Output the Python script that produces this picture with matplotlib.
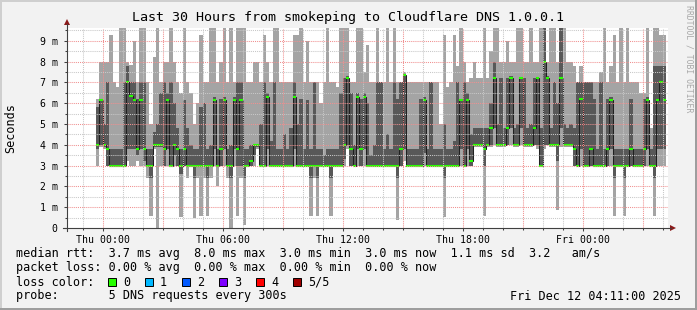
import matplotlib

matplotlib.use("Agg")
import matplotlib.pyplot as plt
from matplotlib.lines import Line2D
from matplotlib.patches import Polygon, Rectangle

W, H = 697, 310
BG, CANVAS = "#f2f2f2", "#ffffff"
SMOKE_OUT, SMOKE_IN, MEDIAN_C = "#a4a4a4", "#585858", "#202020"
MINOR_C, MAJOR_C, AXIS_C, ARROW_C = "#c8c8c8", "#f09090", "#404040", "#8b1a1a"

# hours relative to Thu 00:00; 10-minute bins starting Wed 23:40
T0, STEP = -1 / 3, 1 / 6

# sorted pings per bin (ms): lowest, 2nd, median, 4th, highest
LO = [3.0, 3.9, 3.8, 3.0, 3.0, 2.95, 3.0, 3.0, 3.0, 3.2,
      3.0, 3.0, 3.2, 3.0, 3.0, 2.4, 0.6, 3.8, 0.0, 3.0,
      3.0, 3.0, 3.0, 3.0, 3.0, 0.55, 3.0, 2.4, 3.0, 0.5,
      2.4, 0.6, 2.4, 0.6, 2.4, 3.0, 2.0, 3.0, 3.0, 2.4,
      0.0, 3.0, 0.6, 2.4, 0.15, 3.0, 3.0, 3.0, 3.8, 3.0,
      3.0, 3.0, 3.0, 3.0, 3.0, 3.0, 3.0, 3.0, 3.0, 3.0,
      3.0, 3.0, 3.0, 3.0, 0.6, 2.4, 0.6, 3.0, 3.0, 3.0,
      0.6, 3.0, 3.0, 3.0, 3.0, 3.8, 3.0, 3.0, 3.0, 3.0,
      3.0, 3.0, 3.0, 3.0, 3.0, 3.0, 3.0, 3.0, 3.0, 3.0,
      0.4, 3.0, 3.2, 3.0, 3.0, 3.0, 3.0, 3.0, 3.0, 3.0,
      3.0, 3.0, 3.0, 3.0, 0.55, 3.0, 3.0, 3.0, 3.0, 3.0,
      3.0, 3.0, 3.0, 3.9, 3.9, 3.9, 0.6, 3.9, 3.9, 4.0,
      3.9, 3.9, 3.9, 4.0, 4.0, 3.9, 3.9, 4.0, 3.9, 3.9,
      3.9, 4.0, 3.8, 3.0, 3.8, 4.0, 3.9, 3.9, 0.85, 3.9,
      3.9, 3.9, 3.9, 3.0, 3.0, 3.0, 3.0, 3.0, 3.0, 3.0,
      3.0, 3.0, 3.0, 3.0, 3.0, 0.6, 3.0, 3.0, 0.6, 3.0,
      3.0, 3.0, 3.0, 3.0, 3.0, 3.0, 3.0, 0.6, 3.0, 3.0, 3.0]
P2 = [3.8, 4.0, 3.9, 3.0, 3.0, 3.0, 3.0, 3.0, 3.0, 3.8,
      3.8, 3.8, 3.5, 3.8, 3.2, 3.0, 2.4, 3.9, 3.9, 3.9,
      3.0, 3.8, 3.0, 3.5, 3.0, 2.6, 3.0, 3.0, 3.0, 2.4,
      3.0, 3.0, 3.0, 2.4, 3.0, 3.8, 3.0, 3.0, 3.8, 3.0,
      2.4, 3.8, 3.0, 3.0, 2.4, 3.0, 3.0, 3.5, 3.9, 3.0,
      3.0, 3.8, 3.0, 3.0, 3.0, 3.0, 3.0, 3.0, 3.0, 3.8,
      3.0, 3.0, 3.0, 3.0, 2.4, 3.0, 2.4, 3.0, 3.0, 3.0,
      2.4, 3.0, 3.0, 3.0, 3.3, 4.0, 3.0, 3.0, 3.8, 3.0,
      3.8, 3.0, 3.0, 3.0, 3.0, 3.0, 3.0, 3.0, 3.0, 3.0,
      2.4, 3.0, 3.8, 3.0, 3.0, 3.0, 3.0, 3.0, 3.6, 3.0,
      3.0, 3.0, 3.0, 3.0, 2.4, 3.0, 3.0, 3.0, 3.0, 3.8,
      3.0, 3.8, 3.0, 3.95, 3.95, 3.95, 3.0, 3.95, 4.0, 4.8,
      4.0, 4.0, 4.0, 4.0, 4.8, 4.0, 4.0, 4.8, 4.0, 4.0,
      4.0, 4.0, 4.0, 3.0, 4.0, 4.0, 4.0, 4.0, 3.2, 4.8,
      4.0, 4.0, 4.0, 3.0, 3.0, 3.8, 3.0, 3.0, 3.0, 3.0,
      3.0, 3.0, 3.0, 3.0, 3.8, 2.4, 3.0, 3.0, 2.4, 3.0,
      3.0, 3.0, 3.0, 3.0, 3.0, 3.8, 3.0, 2.4, 3.8, 3.8, 3.8]
MED = [4.0, 6.15, 4.0, 3.8, 3.0, 3.0, 3.0, 3.0, 3.0, 7.0,
       6.35, 6.15, 3.8, 6.15, 3.8, 3.0, 3.0, 4.0, 4.0, 4.0,
       3.8, 6.15, 3.0, 4.0, 3.8, 3.0, 3.8, 3.0, 3.0, 3.0,
       3.0, 3.0, 3.0, 3.0, 3.0, 6.15, 3.0, 3.8, 6.15, 3.0,
       3.0, 6.15, 3.8, 6.15, 3.0, 3.0, 3.2, 4.0, 4.0, 3.0,
       3.0, 6.3, 3.0, 3.0, 3.0, 3.0, 3.0, 3.0, 3.0, 6.3,
       3.0, 3.0, 3.0, 3.0, 3.0, 3.0, 3.0, 3.0, 3.0, 3.0,
       3.0, 3.0, 3.0, 3.0, 4.0, 7.2, 3.8, 3.0, 6.3, 3.8,
       6.3, 3.0, 3.0, 3.0, 3.0, 3.0, 3.0, 3.0, 3.0, 3.0,
       3.0, 3.8, 7.35, 3.0, 3.0, 3.0, 3.0, 3.0, 6.15, 3.0,
       3.0, 3.0, 3.0, 3.0, 3.0, 3.0, 3.0, 3.0, 3.0, 6.15,
       3.0, 6.15, 3.2, 4.0, 4.0, 4.0, 3.8, 4.0, 4.8, 7.2,
       4.0, 4.0, 4.0, 4.8, 7.2, 4.0, 4.0, 7.2, 4.0, 4.0,
       4.0, 4.8, 7.2, 3.0, 8.0, 7.2, 4.0, 4.0, 4.0, 7.2,
       4.0, 4.0, 4.0, 3.8, 3.0, 6.2, 3.0, 3.0, 3.8, 3.0,
       3.0, 3.0, 3.0, 3.8, 6.15, 3.0, 3.0, 3.0, 3.0, 3.0,
       3.8, 3.0, 3.0, 3.0, 3.8, 6.15, 3.0, 3.0, 6.15, 7.0, 6.15]
P4 = [5.8, 6.2, 5.0, 7.0, 3.8, 3.8, 3.8, 3.8, 7.0, 7.8,
      7.0, 7.0, 6.2, 7.0, 7.0, 3.8, 3.8, 4.6, 5.0, 6.5,
      7.0, 6.5, 7.0, 6.0, 4.8, 3.8, 6.15, 4.8, 4.0, 3.8,
      3.8, 5.8, 6.0, 3.8, 4.0, 6.3, 3.8, 6.2, 6.3, 3.8,
      4.0, 6.3, 7.0, 7.0, 3.8, 3.8, 4.0, 4.0, 4.0, 5.0,
      7.0, 6.5, 4.2, 7.0, 3.8, 3.8, 4.5, 3.8, 4.8, 7.0,
      5.0, 6.2, 3.8, 6.15, 3.8, 7.0, 3.8, 3.8, 3.5, 3.8,
      3.8, 3.8, 3.8, 6.5, 7.2, 7.3, 6.5, 4.0, 6.5, 6.2,
      6.5, 6.0, 3.5, 4.0, 7.0, 7.0, 3.8, 4.5, 3.8, 7.0,
      6.2, 7.0, 7.4, 3.8, 3.8, 3.8, 3.8, 6.2, 6.3, 3.8,
      7.0, 3.8, 3.8, 3.8, 5.0, 3.8, 3.8, 4.2, 7.0, 6.2,
      7.0, 6.5, 4.5, 4.8, 4.8, 4.8, 4.8, 4.8, 6.0, 8.0,
      5.0, 7.2, 4.8, 7.2, 7.3, 4.8, 5.0, 7.2, 7.2, 4.8,
      5.0, 7.2, 7.2, 4.8, 9.6, 7.3, 4.8, 7.0, 6.0, 9.6,
      5.0, 4.8, 5.0, 4.8, 7.0, 7.0, 7.0, 7.0, 7.0, 6.2,
      3.8, 7.0, 3.8, 6.2, 6.3, 3.8, 3.8, 3.8, 3.8, 3.8,
      6.2, 3.8, 3.8, 3.8, 6.2, 6.3, 3.8, 7.8, 7.8, 7.8, 7.8]
HI = [6.2, 8.0, 8.0, 8.0, 9.3, 7.0, 6.8, 9.6, 9.6, 8.0,
      7.85, 9.0, 7.0, 9.6, 9.6, 7.0, 5.0, 8.2, 9.6, 7.0,
      8.0, 8.0, 9.6, 8.0, 7.0, 6.5, 9.6, 7.0, 6.5, 5.0,
      6.0, 9.3, 7.0, 7.0, 9.6, 9.6, 7.0, 8.0, 9.6, 7.0,
      9.6, 7.0, 9.6, 9.6, 9.6, 7.0, 7.0, 8.0, 8.0, 7.0,
      9.3, 8.0, 7.0, 9.6, 9.6, 7.0, 7.0, 7.0, 7.0, 9.3,
      9.3, 9.6, 7.0, 9.0, 7.0, 7.0, 7.0, 6.0, 7.0, 9.6,
      7.0, 7.0, 6.8, 9.6, 9.6, 9.6, 7.0, 7.0, 9.6, 9.6,
      7.5, 8.8, 7.0, 7.0, 9.6, 7.0, 7.0, 9.6, 7.0, 9.6,
      7.0, 7.0, 7.5, 7.0, 7.0, 7.0, 7.0, 7.0, 7.0, 7.0,
      7.0, 7.0, 7.0, 5.0, 9.3, 6.8, 7.0, 9.3, 7.8, 9.6,
      8.0, 7.0, 7.2, 8.0, 7.2, 7.2, 9.6, 7.2, 8.5, 9.6,
      9.6, 8.0, 8.0, 9.0, 8.0, 8.0, 9.6, 9.6, 8.0, 8.0,
      9.6, 8.0, 8.0, 9.6, 9.6, 8.0, 9.6, 9.6, 8.0, 9.6,
      9.6, 8.0, 8.0, 7.8, 7.0, 7.8, 7.0, 7.0, 7.0, 7.0,
      7.0, 7.5, 9.6, 7.0, 7.8, 9.3, 7.0, 9.6, 7.0, 9.6,
      7.0, 7.0, 7.0, 6.5, 6.5, 9.6, 4.8, 9.6, 9.6, 9.3, 9.3]
assert len({len(LO), len(P2), len(MED), len(P4), len(HI)}) == 1

X_TICKS = [0, 6, 12, 18, 24]
X_LABELS = ["Thu 00:00", "Thu 06:00", "Thu 12:00", "Thu 18:00", "Fri 00:00"]
Y_TICKS = [0, 1, 2, 3, 4, 5, 6, 7, 8, 9]
Y_LABELS = ["0", "1 m", "2 m", "3 m", "4 m", "5 m", "6 m", "7 m", "8 m", "9 m"]

LOSS_LABELS = ["0", "1", "2", "3", "4", "5/5"]
LOSS_COLORS = ["#26ff00", "#00b8ff", "#0059ff", "#7e00ff", "#ff0000", "#a00000"]

plt.rcParams["font.family"] = "monospace"
plt.rcParams["font.monospace"] = ["DejaVu Sans Mono"]


def fx(x):
    return x / W


def fy(y):
    return 1 - y / H


fig = plt.figure(figsize=(W / 100, H / 100), dpi=100, facecolor=BG)
ax = fig.add_axes([fx(67), fy(228), 601 / W, 200 / H])
ax.set_facecolor(CANVAS)
ax.set_xlim(-1.775, 28.275)
ax.set_ylim(0, 200 / 20.8)
for s in ax.spines.values():
    s.set_visible(False)

edges = [T0 + k * STEP for k in range(len(MED) + 1)]
ax.stairs(HI, edges, baseline=LO, fill=True, color=SMOKE_OUT, lw=0, zorder=1)
ax.stairs(P4, edges, baseline=P2, fill=True, color=SMOKE_IN, lw=0, zorder=2)
ax.stairs(MED, edges, baseline=None, color=MEDIAN_C, lw=0.75, zorder=3)
ax.hlines(MED, edges[:-1], edges[1:], color=LOSS_COLORS[0], lw=1.5, zorder=4)

# rrdtool draws its grid on top of the data
dots = (0, (1, 1))
for h in range(-1, 29):
    ax.axvline(h, color=MAJOR_C if h % 3 == 0 else MINOR_C, lw=0.75,
               ls=dots, zorder=5)
for k in range(1, 20):
    ax.axhline(k / 2, color=MAJOR_C if k % 2 == 0 else MINOR_C, lw=0.75,
               ls=dots, zorder=5)

ax.set_xticks(X_TICKS, X_LABELS)
ax.set_xticks(range(-1, 29), minor=True)
ax.set_yticks(Y_TICKS, Y_LABELS)
ax.set_yticks([k / 2 for k in range(1, 20, 2)], minor=True)
ax.tick_params(which="both", direction="out", color=AXIS_C, width=0.75,
               labelsize=7.1, labelcolor="black")
ax.tick_params(which="major", length=2.2)
ax.tick_params(which="minor", length=1.5)
ax.tick_params(axis="x", pad=3)
ax.tick_params(axis="y", pad=4.5)

# axes with arrows, drawn past the canvas like rrdtool
fig.add_artist(Line2D([fx(63), fx(671)], [fy(228), fy(228)], color=AXIS_C, lw=0.8))
fig.add_artist(Line2D([fx(67), fx(67)], [fy(231), fy(24)], color=AXIS_C, lw=0.8))
fig.add_artist(Polygon([(fx(670), fy(225)), (fx(676), fy(228)), (fx(670), fy(231))],
                       closed=True, color=ARROW_C, lw=0))
fig.add_artist(Polygon([(fx(64), fy(25)), (fx(67), fy(19)), (fx(70), fy(25))],
                       closed=True, color=ARROW_C, lw=0))

# frame shading
fig.add_artist(Rectangle((0, fy(2)), 1, 2 / H, transform=fig.transFigure, color="#cfcfcf", lw=0))
fig.add_artist(Rectangle((0, 0), 2 / W, 1, transform=fig.transFigure, color="#cfcfcf", lw=0))
fig.add_artist(Rectangle((0, 0), 1, 2 / H, transform=fig.transFigure, color="#9e9e9e", lw=0))
fig.add_artist(Rectangle((fx(695), 0), 2 / W, 1, transform=fig.transFigure, color="#9e9e9e", lw=0))

fig.text(fx(348), fy(18), "Last 30 Hours from smokeping to Cloudflare DNS 1.0.0.1",
         ha="center", va="center", fontsize=9.6)
fig.text(fx(11), fy(128), "Seconds", rotation=90, ha="center", va="center", fontsize=8.5)
fig.text(fx(689), fy(5), "RRDTOOL / TOBI OETIKER", rotation=270, ha="center",
         va="top", fontsize=5.9, color="#a8a8a8")

leg = dict(ha="left", va="center", fontsize=8.5)
fig.text(fx(16), fy(254), "median rtt:  3.7 ms avg  8.0 ms max  3.0 ms min  "
         "3.0 ms now  1.1 ms sd  3.2   am/s", **leg)
fig.text(fx(16), fy(268), "packet loss: 0.00 % avg  0.00 % max  0.00 % min  "
         "0.00 % now", **leg)
fig.text(fx(16), fy(282), "loss color:", **leg)
for k, (lab, col) in enumerate(zip(LOSS_LABELS, LOSS_COLORS)):
    x0 = 108 + 37 * k
    fig.add_artist(Rectangle((fx(x0), fy(286)), 8 / W, 8 / H, transform=fig.transFigure,
                             facecolor=col, edgecolor="black", lw=0.7))
    fig.text(fx(x0 + 15), fy(282), lab, **leg)
fig.text(fx(16), fy(296), "probe:       5 DNS requests every 300s", **leg)
fig.text(fx(681), fy(296), "Fri Dec 12 04:11:00 2025", ha="right", va="center", fontsize=8.5)

fig.savefig("out.png", dpi=100, facecolor=BG)
